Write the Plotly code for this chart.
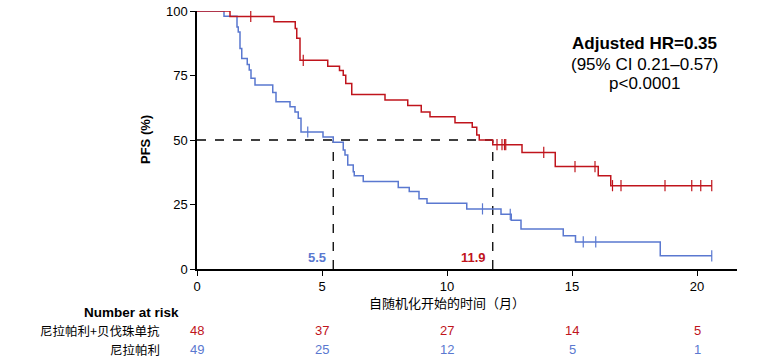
import plotly.graph_objects as go

# ---------------- data ----------------
red_t = [0, 1.32, 3.08, 3.93, 3.99, 4.12, 5.23, 5.70, 5.85, 5.95, 6.19, 7.52, 8.43, 8.97,
         9.32, 10.32, 11.01, 11.19, 11.29, 11.83, 13.0, 14.33, 16.05, 16.55]
red_s = [100, 97.9, 95.8, 93.2, 89.4, 80.9, 78.6, 76.9, 75.1, 71.9, 67.6, 65.5, 63.4, 60.9,
         59.0, 56.7, 54.9, 51.9, 50.0, 48.2, 45.2, 39.7, 36.1, 32.3]
red_end = 20.6
red_cens = [2.15, 4.25, 12.0, 12.2, 12.3, 12.35, 13.87, 15.12, 15.92, 16.62, 16.96,
            18.72, 19.79, 20.15, 20.59]

blue_t = [0, 1.08, 1.60, 1.65, 1.72, 1.79, 2.01, 2.09, 2.16, 2.32, 3.03, 3.16, 3.72, 3.92,
          4.05, 4.16, 5.04, 5.45, 5.85, 5.92, 6.03, 6.25, 6.29, 6.65, 8.05, 8.49, 8.88, 9.20,
          10.79, 12.16, 12.57, 12.96, 14.65, 15.14, 18.53]
blue_s = [100, 98.0, 93.8, 91.9, 85.5, 81.6, 79.3, 77.1, 73.9, 71.3, 68.4, 64.8, 62.9, 60.9,
          58.4, 53.1, 51.2, 49.1, 46.1, 44.2, 40.3, 37.7, 36.1, 33.9, 31.6, 30.0, 27.2, 25.5,
          23.3, 21.2, 18.9, 15.5, 12.9, 10.5, 5.1]
blue_end = 20.6
blue_cens = [4.43, 11.42, 12.53, 15.45, 15.95, 20.59]

medians = [5.45, 11.83]
median_labels = ["5.5", "11.9"]

risk_times = [0, 5, 10, 15, 20]
risk_red = [48, 37, 27, 14, 5]
risk_blue = [49, 25, 12, 5, 1]

group_red = "尼拉帕利+贝伐珠单抗"
group_blue = "尼拉帕利"

RED = "#C0141C"
BLUE = "#5A78D0"
FONT = "Liberation Sans, Arial, sans-serif"
CJK = "Noto Sans CJK SC, sans-serif"


def step_value(ts, ss, t):
    v = ss[0]
    for ti, si in zip(ts, ss):
        if ti <= t:
            v = si
    return v


fig = go.Figure()

# median reference lines
fig.add_trace(go.Scatter(x=[0, medians[1]], y=[50, 50], mode="lines",
                         line=dict(color="black", width=1.3, dash="dash"), showlegend=False))
for m in medians:
    fig.add_trace(go.Scatter(x=[m, m], y=[0, 50], mode="lines",
                             line=dict(color="black", width=1.3, dash="dash"), showlegend=False))

for ts, ss, end, cens, col in [(blue_t, blue_s, blue_end, blue_cens, BLUE),
                                (red_t, red_s, red_end, red_cens, RED)]:
    fig.add_trace(go.Scatter(x=ts + [end], y=ss + [ss[-1]], mode="lines",
                             line=dict(color=col, width=1.5, shape="hv"), showlegend=False))
    fig.add_trace(go.Scatter(x=cens, y=[step_value(ts, ss, c) for c in cens], mode="markers",
                             marker=dict(symbol="line-ns", size=8, line=dict(color=col, width=1.2)),
                             showlegend=False))

ann = []
# median labels
ann.append(dict(x=medians[0], y=4.5, xref="x", yref="y", text="<b>" + median_labels[0] + "</b>",
                showarrow=False, xanchor="right", yanchor="middle", xshift=-5,
                font=dict(family=FONT, size=13, color=BLUE)))
ann.append(dict(x=medians[1], y=4.5, xref="x", yref="y", text="<b>" + median_labels[1] + "</b>",
                showarrow=False, xanchor="right", yanchor="middle", xshift=-5,
                font=dict(family=FONT, size=13, color=RED)))
# HR text
for txt, yy in [("<b>Adjusted HR=0.35</b>", 87.5), ("(95% CI 0.21–0.57)", 79.4), ("p<0.0001", 72.0)]:
    ann.append(dict(x=17.88, y=yy, xref="x", yref="y", text=txt, showarrow=False,
                    xanchor="center", yanchor="middle",
                    font=dict(family=FONT, size=17, color="black")))

PH = 258.6  # plot height in px


def py(pix):
    return (269.3 - pix) / PH


# x-axis title
ann.append(dict(x=10, y=py(303), xref="x", yref="paper", text="自随机化开始的时间（月）",
                showarrow=False, xanchor="center", yanchor="middle",
                font=dict(family=CJK, size=13, color="black")))
# y-axis title
ann.append(dict(x=-(197 - 145) / 540, y=0.5, xref="paper", yref="paper", text="<b>PFS (%)</b>",
                textangle=-90, showarrow=False, xanchor="center", yanchor="middle",
                font=dict(family=FONT, size=13, color="black")))
# number at risk
ann.append(dict(x=-(197 - 181) / 540, y=py(313), xref="paper", yref="paper",
                text="<b>Number at risk</b>", xanchor="right", yanchor="middle", showarrow=False,
                font=dict(family=FONT, size=13.5, color="black")))
ann.append(dict(x=-(197 - 162) / 540, y=py(331), xref="paper", yref="paper", text=group_red,
                xanchor="right", yanchor="middle", showarrow=False,
                font=dict(family=CJK, size=12.5, color="black")))
ann.append(dict(x=-(197 - 162) / 540, y=py(350), xref="paper", yref="paper", text=group_blue,
                xanchor="right", yanchor="middle", showarrow=False,
                font=dict(family=CJK, size=12.5, color="black")))
for t, r, b in zip(risk_times, risk_red, risk_blue):
    ann.append(dict(x=t, y=py(331), xref="x", yref="paper", text=str(r), showarrow=False,
                    xanchor="center", yanchor="middle", font=dict(family=FONT, size=13, color=RED)))
    ann.append(dict(x=t, y=py(350), xref="x", yref="paper", text=str(b), showarrow=False,
                    xanchor="center", yanchor="middle", font=dict(family=FONT, size=13, color=BLUE)))

fig.update_layout(
    width=770, height=361,
    margin=dict(l=197, r=33, t=11, b=92, pad=0, autoexpand=False),
    paper_bgcolor="white", plot_bgcolor="white",
    annotations=ann,
    xaxis=dict(range=[0, 21.6], tickvals=[0, 5, 10, 15, 20], showgrid=False, zeroline=False,
               automargin=False,
               showline=True, linecolor="black", linewidth=1.5, ticks="outside", ticklen=5,
               tickcolor="black", tickwidth=1.2, tickfont=dict(family=FONT, size=13, color="black")),
    yaxis=dict(range=[0, 100], tickvals=[0, 25, 50, 75, 100], showgrid=False, zeroline=False,
               automargin=False,
               showline=True, linecolor="black", linewidth=1.5, ticks="outside", ticklen=5,
               tickcolor="black", tickwidth=1.2, tickfont=dict(family=FONT, size=13, color="black")),
)

fig.write_html("out.html", post_script="document.body.style.margin='0';",
               config={"displayModeBar": False})
